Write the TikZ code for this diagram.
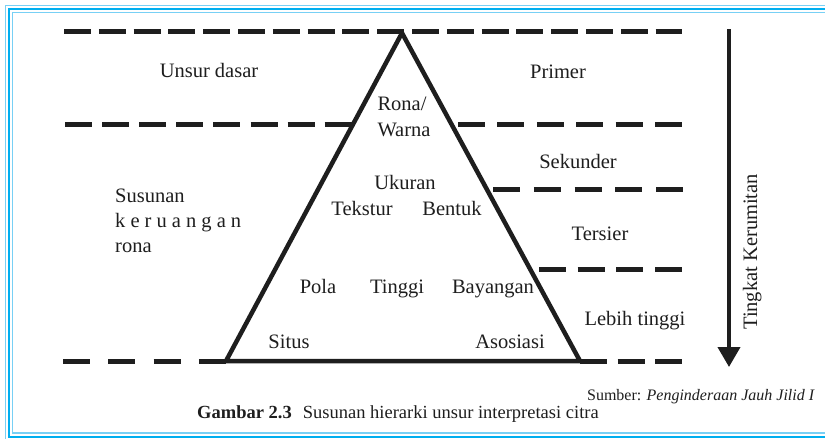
\documentclass[tikz,border=0pt]{standalone}
\usepackage{fontspec}
\setmainfont{Liberation Serif}
\usetikzlibrary{arrows.meta}
\definecolor{framecyan}{RGB}{0,174,239}
\definecolor{framelight}{RGB}{120,208,245}
\definecolor{ink}{RGB}{30,30,30}
\newcommand\mylbl{\fontsize{20.5}{25}\selectfont}
\begin{document}
\begin{tikzpicture}[x=1pt,y=-1pt,
  lbl/.style={inner sep=0pt,anchor=base,font=\mylbl,text=ink},
  lblw/.style={inner sep=0pt,anchor=base west,font=\mylbl,text=ink},
  dashline/.style={draw=ink,line width=5pt,dash pattern=on 27pt off #1},
  tri/.style={draw=ink,line width=4.5pt,line join=round},
  framethick/.style={draw=framecyan,line width=2pt},
  framethin/.style={draw=framelight,line width=1.3pt}]
\useasboundingbox (0,0) rectangle (825,439);
% frame
\draw[framethin] (825,5.5) -- (5.5,5.5) -- (5.5,445);
\draw[framethick] (825,9) -- (9,9) -- (9,436.5) -- (825,436.5);
\draw[framethin] (825,12.5) -- (12.5,12.5) -- (12.5,433) -- (825,433);
% coordinates
\coordinate (apex) at (402,33);
\coordinate (bl) at (226,361);
\coordinate (br) at (580,361);
\coordinate (t1) at (64,31);   \coordinate (t2) at (682,31);
\coordinate (a1) at (65,124);  \coordinate (a2) at (352,124);
\coordinate (a3) at (458,124); \coordinate (a4) at (682,124);
\coordinate (b1) at (493,189); \coordinate (b2) at (683,189);
\coordinate (c1) at (539,269); \coordinate (c2) at (682,269);
\coordinate (d1) at (63,361);
\coordinate (d2) at (682,361);
% dashed levels
\draw[dashline=7.8pt] (t1) -- (t2);
\draw[dashline=10.1pt] (a1) -- (a2);
\draw[dashline=12.4pt] (a3) -- (a4);
\draw[dashline=13.75pt] (b1) -- (b2);
\draw[dashline=11.7pt] (c1) -- (c2);
\draw[dashline=18.3pt] (d1) -- (bl);
\draw[dashline=10.5pt] (br) -- (d2);
% triangle
\draw[tri] (apex) -- (bl) -- (br) -- cycle;
% arrow
\coordinate (ar1) at (729,29);
\coordinate (ar2) at (729,367);
\draw[draw=ink,line width=4pt,-{Triangle[width=22pt,length=20pt]}] (ar1) -- (ar2);
\node[lblw,rotate=90] (tk) at (757,330) {Tingkat Kerumitan};
% left labels
\node[lbl] (ud) at (209,77) {Unsur dasar};
\node[lblw] (s1) at (115,202) {Susunan};
\node[lblw] (s2) at (115,227) {\makebox[126pt][s]{k e r u a n g a n}};
\node[lblw] (s3) at (115,252) {rona};
% right labels
\node[lbl] (pr) at (558,78) {Primer};
\node[lbl] (sk) at (578,168) {Sekunder};
\node[lbl] (te) at (600,240) {Tersier};
\node[lbl] (lt) at (635,325) {Lebih tinggi};
% triangle labels
\node[lbl] (rona) at (402,110) {Rona/};
\node[lbl] (warna) at (404,136) {Warna};
\node[lbl] (uk) at (405,189) {Ukuran};
\node[lbl] (tek) at (362,215) {Tekstur};
\node[lbl] (ben) at (452,215) {Bentuk};
\node[lbl] (pola) at (318,293) {Pola};
\node[lbl] (ting) at (397,293) {Tinggi};
\node[lbl] (bay) at (493,293) {Bayangan};
\node[lbl] (sit) at (289,348) {Situs};
\node[lbl] (aso) at (510,348) {Asosiasi};
% source and caption
\node[inner sep=0pt,anchor=base east,font=\fontsize{16}{19}\selectfont,text=ink] (src) at (815,400) {Sumber: \textit{Penginderaan Jauh Jilid I}};
\node[inner sep=0pt,anchor=base west,font=\fontsize{18.5}{22}\selectfont,text=ink] (cap) at (197,418) {\textbf{Gambar 2.3}\hspace{0.6em}Susunan hierarki unsur interpretasi citra};
\end{tikzpicture}
\end{document}
